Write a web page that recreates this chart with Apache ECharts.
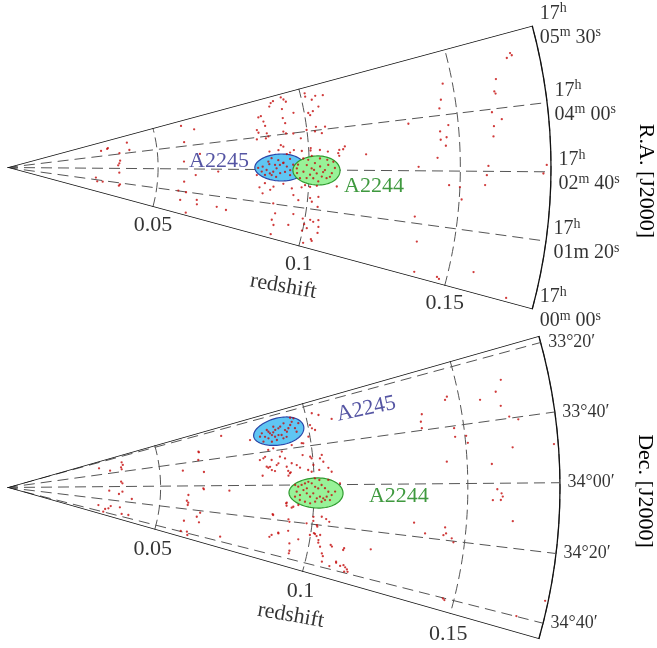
<!DOCTYPE html>
<html><head><meta charset="utf-8">
<script src="https://cdn.jsdelivr.net/npm/echarts@6/dist/echarts.min.js"></script>
<style>html,body{margin:0;padding:0;background:#fff}#c{width:657px;height:648px}</style>
</head><body><div id="c"></div>
<script>
// ---- data: [redshift, R.A. seconds after 17h00m00s] ----
const raPoints = [
[.0340,284],[.0337,280],[.0316,274],[.0405,293],[.0409,254],[.0375,244],[.0375,203],[.0372,188],[.0368,177],[.0372,136],
[.0296,94],[.0302,70],[.0320,73],[.0378,72],[.0375,64],[.0592,312],[.0632,291],[.0592,254],[.0586,186],[.0625,140],
[.0588,115],[.0572,81],[.0598,79],[.0583,49],[.0637,59],[.0640,45],[.0610,10],[.0706,49],[.0738,45],[.0699,153],
[.0640,209],[.0935,322],[.0942,316],[.0948,310],[.0898,315],[.0907,318],[.0891,308],[.1015,318],[.1014,311],[.1033,302],
[.1047,308],[.1050,286],[.1072,306],[.0965,283],[.1013,277],[.1018,272],[.1029,279],[.0930,296],[.0927,276],[.0857,290],
[.0848,288],[.0862,276],[.0865,265],[.0836,258],[.0840,251],[.0867,247],[.0932,264],[.0922,246],[.0930,241],[.0954,239],
[.0977,227],[.0999,243],[.1031,247],[.1061,245],[.1026,238],[.1048,233],[.0871,239],[.0862,235],[.0832,235],[.0909,216],
[.0917,212],[.0951,203],[.0977,200],[.1007,205],[.1037,200],[.1063,196],[.1101,198],[.0938,198],[.0927,195],[.0870,203],
[.0900,205],
[.0846,167],[.0859,159],[.0870,151],[.0881,155],[.0892,163],[.0903,171],[.0914,175],[.0926,167],[.0937,159],[.0947,171],
[.0959,163],[.0876,147],[.0904,152],[.0854,147],[.0887,171],[.0868,173],[.0920,155],[.0937,148],[.0843,155],[.0876,187],
[.0898,182],[.0937,184],[.0915,176],[.0865,179],[.0831,164],[.0891,143],[.0960,153],
[.0992,170],[.1008,163],[.1019,174],[.1036,167],[.1052,160],[.1063,170],[.1075,154],[.1025,153],[.1042,147],[.1003,150],
[.0981,156],[.1058,144],[.1085,164],[.1014,143],[.0992,143],[.1031,137],[.0970,142],[.0981,184],[.0997,181],[.1009,189],
[.1036,183],[.1060,180],[.1080,176],[.1006,200],[.0963,171],[.1046,156],[.1069,147],[.1016,160],
[.0827,146],[.0838,116],[.0855,127],[.0874,112],[.0884,120],[.0850,102],[.0916,128],[.0945,119],[.0952,105],[.0977,123],
[.0988,128],[.1005,125],[.1027,128],[.0970,95],[.1008,102],[.1015,95],[.1035,106],[.1036,86],[.0889,81],[.0900,59],
[.0893,43],[.0902,32],[.0950,39],[.0960,64],[.0993,58],[.1018,58],[.1029,55],[.1045,60],[.1001,47],[.1012,40],
[.0998,33],[.1049,47],[.1050,35],[.0900,10],[.1033,20],[.1037,17],[.1011,9],
[.1707,305],[.1711,302],[.1693,300],[.1644,277],[.1632,262],[.1635,259],[.1468,284],[.1453,262],[.1444,250],[.1615,236],
[.1645,226],[.1617,218],[.1613,205],[.1467,225],[.1438,217],[.1458,208],[.1438,205],[.1454,196],[.1425,179],[.1336,233],
[.1189,188],[.1120,204],[.1114,199],[.1097,192],[.1100,187],[.1362,166],[.1593,167],[.1588,155],[.1583,142],[.1464,140],
[.1500,138],[.1508,121],[.1786,168],[.1775,158],[.1359,90],[.1378,53],[.1391,8],[.1468,9],[.1476,7],[.1582,27],
[.1707,5],[.1093,129]
];
// ---- data: [redshift, Dec arcmin after 33°20'] ----
const decPoints = [
[.0717,4.5],[.0634,12.5],[.0635,13.1],[.0629,19.1],[.0575,26.5],[.0643,29.1],[.0639,42.0],[.0641,42.8],[.0724,43.6],[.0591,47.8],
[.0587,52.8],[.0591,56.4],[.0634,61.6],[.0625,65.2],[.0635,69.3],[.0586,70.3],[.0583,79.6],[.0603,78.9],[.0607,81.5],[.0712,76.7],
[.0382,7.6],[.0384,11.4],[.0377,14.0],[.0378,16.8],[.0306,9.3],[.0340,16.1],[.0372,33.4],[.0376,35.7],[.0333,46.2],[.0365,50.4],
[.0376,47.0],[.0408,55.7],[.0303,70.9],[.0343,68.9],[.0327,75.0],[.0323,79.7],[.0337,72.9],[.0373,68.4],[.0383,76.7],[.0405,76.1],
[.0866,7.4],[.0870,8.6],[.0874,9.7],[.0879,10.9],[.0885,9.5],[.0888,12.2],[.0856,11.1],[.0904,7.9],[.0911,7.2],[.0924,5.8],
[.0924,9.6],[.0929,10.7],[.0936,9.0],[.0944,7.5],[.0951,6.0],[.0959,4.4],[.0949,3.7],[.0957,9.7],[.0960,11.7],[.0910,11.9],
[.0892,14.2],[.0875,14.7],[.0866,12.4],[.0848,13.8],[.0848,8.7],[.0840,10.5],[.0889,6.4],[.0914,13.9],[.0925,13.4],[.0971,7.5],
[.0893,8.4],[.0900,11.6],
[.1021,4.1],[.1041,5.7],[.1080,8.9],[.1007,9.7],[.1011,11.5],[.1020,12.6],[.0995,15.3],[.0975,18.3],[.0937,18.3],[.0876,18.6],
[.0859,19.1],[.0894,23.8],[.0910,25.1],[.0846,22.9],[.0866,25.2],[.0992,25.6],[.1030,25.3],[.1023,26.9],[.1033,28.7],[.0930,28.1],
[.0946,29.3],[.0881,28.4],[.0859,29.1],[.1000,29.9],[.0806,11.3],[.0828,24.5],
[.0853,29.6],[.0864,31.1],[.0874,31.8],[.0917,32.2],[.0925,33.0],[.0956,30.8],[.0982,32.3],[.0993,33.3],[.1018,32.6],[.1048,31.8],
[.1058,33.8],[.0833,34.2],[.0917,34.8],[.1003,36.7],[.1017,37.6],[.1046,37.7],[.0910,50.2],[.0912,51.5],[.0929,52.4],[.0869,57.0],
[.0922,58.9],[.0926,60.2],[.0982,59.9],[.1003,58.3],[.1016,60.2],[.1018,60.9],[.1029,55.8],[.1044,56.7],[.1055,57.9],[.0896,67.5],
[.1010,64.4],
[.0938,40.0],[.0948,40.9],[.0959,40.0],[.0970,39.2],[.0981,38.4],[.0992,39.2],[.1003,41.0],[.1013,41.8],[.1024,40.1],[.1035,41.7],
[.1046,43.4],[.1057,45.0],[.1068,43.3],[.0943,43.6],[.0954,45.4],[.0965,42.7],[.0976,44.4],[.0987,46.1],[.0997,44.3],[.1009,46.8],
[.1019,45.9],[.1030,46.7],[.1041,45.8],[.1052,47.4],[.0954,48.0],[.0971,48.8],[.0988,49.5],[.1004,48.5],[.1025,48.4],[.1036,47.5],
[.0976,41.8],[.0938,46.3],[.0950,50.7],
[.0869,70.3],[.0875,69.0],[.0895,67.1],[.0937,71.8],[.0942,75.7],[.0963,68.8],[.0998,65.6],[.1014,64.7],[.1020,65.6],[.1031,64.8],
[.1029,68.7],[.1037,70.5],[.1070,68.7],[.1075,69.4],[.1047,73.5],[.1052,74.7],[.1053,77.4],[.1080,78.6],[.1099,76.4],[.1114,77.4],
[.1115,69.1],[.1124,76.7],[.1131,77.5],[.1138,78.2],[.1131,79.5],[.1142,79.2],
[.0592,54.4],[.0871,57.4],[.0926,65.2],[.0840,23.7],[.0848,28.9],[.0902,21.1],[.0887,27.5],[.0913,29.8],[.0922,33.5],[.0970,18.1],
[.0968,24.3],[.0996,26.5],[.0934,51.8],[.0912,49.8],[.1002,56.2],[.1028,67.4],[.0942,77.1],
[.1645,7.9],[.1621,11.2],[.1629,15.8],[.1566,12.8],[.1651,19.5],[.1679,20.7],[.1454,10.6],[.1462,9.6],[.1371,14.1],[.1364,16.8],
[.1364,19.2],[.1468,20.8],[.1468,23.8],[.1504,23.9],[.1507,26.3],[.1651,29.0],[.1786,29.0],[.1434,32.2],[.1580,33.8],[.1596,41.9],
[.1610,43.2],[.1614,44.2],[.1608,45.3],[.1582,45.4],[.1650,51.7],[.1330,54.8],[.1369,58.4],[.1432,55.5],[.1437,57.6],[.1429,58.3],
[.1457,59.1],[.1464,60.4],[.1201,67.6],[.1113,70.0],[.1098,75.9],[.1464,80.2],[.1470,80.6],[.1790,73.7],[.1710,79.9],[.1084,39.4]
];
// ---- axes ----
const zMax = 0.18;
const zTicks = [0.05, 0.1, 0.15];
const zTickText = ['0.05', '0.1', '0.15'];
const raRange = [0, 330];            // wedge edges, seconds of R.A.
const decRange = [-1.9, 84.6];       // wedge edges, arcmin of Dec. after 33°20'
const raSpokes = [80, 160, 240];
const decSpokes = [0, 20, 40, 60, 80];
const raTickValues = [0, 80, 160, 240, 330];
const raTickText = [
  '{n|17}{s|h}\n{n|00}{s|m}{n| 00}{s|s}',
  '{n|17}{s|h}\n{n|01m 20}{s|s}',
  '{n|17}{s|h}\n{n|02}{s|m}{n| 40}{s|s}',
  '{n|17}{s|h}\n{n|04}{s|m}{n| 00}{s|s}',
  '{n|17}{s|h}\n{n|05}{s|m}{n| 30}{s|s}'
];
const decTickValues = [0, 20, 40, 60, 80];
const decTickText = ['33°20′', '33°40′', '34°00′', '34°20′', '34°40′'];
// ---- clusters: [redshift, centre angle value, half-width in z, half-height in angle units] ----
const clusterNames = ['A2245', 'A2244'];
const raClusters = [[0.0903, 165, 0.0083, 30.9], [0.1024, 159, 0.0078, 29.3]];
const decClusters = [[0.0903, 9.7, 0.0083, 7.6], [0.1006, 44.1, 0.0088, 7.57]];

const FONT = "'Liberation Serif','Times New Roman',serif";
const clusterFill = ['#5fc6f3', '#98f298'];
const clusterStroke = ['#2a46a8', '#2f9a2f'];
const clusterText = ['#2b2b8c', '#0f800f'];
const CLEAR = 'rgba(0,0,0,0)';
const TXT = { textBorderWidth: 0, textShadowBlur: 0 };

const panels = [
  { center: [7, 167.5], radius: 544, range: raRange, start: -15.1, end: 15.1, clockwise: false,
    points: raPoints, spokes: raSpokes, tickVals: raTickValues, tickText: raTickText, clusters: raClusters,
    zEdge: raRange[0], zOff: [0, 18], rsAt: [0.094, raRange[0]], rsOff: [2, 45],
    nameAt: [[0.0702, 184], [0.1216, 133.5]], nameRot: [0, 0], title: 'R.A. [J2000]', titleXY: [646, 181] },
  { center: [7, 487.5], radius: 553, range: decRange, start: 15.9, end: -15.9, clockwise: true,
    points: decPoints, spokes: decSpokes, tickVals: decTickValues, tickText: decTickText, clusters: decClusters,
    zEdge: decRange[1], zOff: [-2, 20], rsAt: [0.094, decRange[1]], rsOff: [6, 49],
    nameAt: [[0.1197, 7.8], [0.1276, 44.7]], nameRot: [12, 0], title: 'Dec. [J2000]', titleXY: [645, 491] }
];

function at(off) { return { position: [0.5 + off[0], 0.5 + off[1]], align: 'center', verticalAlign: 'middle' }; }

const series = [];
panels.forEach((p, i) => {
  const base = { coordinateSystem: 'polar', polarIndex: i, silent: true, animation: false };
  const labelBase = Object.assign({}, base, { type: 'scatter', z: 5, symbolSize: 1, itemStyle: { color: CLEAR }, labelLayout: { hideOverlap: false } });
  // dashed spokes
  p.spokes.forEach(v => series.push(Object.assign({}, base, {
    type: 'line', symbol: 'none', z: 1, data: [[0, v], [zMax, v]],
    lineStyle: { color: '#555', width: 1, type: [11, 6] }
  })));
  // solid wedge edges
  p.range.forEach(v => series.push(Object.assign({}, base, {
    type: 'line', symbol: 'none', z: 4, data: [[0, v], [zMax, v]],
    lineStyle: { color: '#111', width: 1.3 }
  })));
  // cluster ellipses
  series.push(Object.assign({}, base, {
    type: 'custom', z: 2, data: p.clusters,
    renderItem: (params, api) => {
      const z0 = api.value(0), v0 = api.value(1), a = api.value(2), b = api.value(3);
      const pts = [];
      for (let k = 0; k < 90; k++) {
        const t = k / 90 * Math.PI * 2;
        pts.push(api.coord([z0 + a * Math.cos(t), v0 + b * Math.sin(t)]));
      }
      return { type: 'polygon', shape: { points: pts },
        style: { fill: clusterFill[params.dataIndex], stroke: clusterStroke[params.dataIndex], lineWidth: 1.2 } };
    }
  }));
  // galaxies
  series.push(Object.assign({}, base, {
    type: 'scatter', z: 3, symbol: 'circle', symbolSize: 2.3, data: p.points,
    itemStyle: { color: '#c40a0a' }
  }));
  // outer tick labels
  series.push(Object.assign({}, labelBase, {
    data: p.tickVals.map((v, k) => ({ value: [zMax, v], label: { formatter: p.tickText[k] } })),
    label: Object.assign({ show: true, position: 'right', distance: 7, color: '#000', fontFamily: FONT, fontSize: 18,
      rich: { n: Object.assign({ fontFamily: FONT, fontSize: 20, lineHeight: 24, verticalAlign: 'middle', color: '#000' }, TXT),
              s: Object.assign({ fontFamily: FONT, fontSize: 14, lineHeight: 24, verticalAlign: 'top', color: '#000' }, TXT) } }, TXT)
  }));
  // redshift tick labels
  series.push(Object.assign({}, labelBase, {
    data: zTicks.map((z, k) => ({ value: [z, p.zEdge], label: { formatter: zTickText[k] } })),
    label: Object.assign({ show: true, color: '#000', fontFamily: FONT, fontSize: 22 }, at(p.zOff), TXT)
  }));
  // axis name
  series.push(Object.assign({}, labelBase, {
    data: [{ value: p.rsAt, label: { formatter: 'redshift' } }],
    label: Object.assign({ show: true, rotate: -10, color: '#000', fontFamily: FONT, fontSize: 22 }, at(p.rsOff), TXT)
  }));
  // cluster names
  series.push(Object.assign({}, labelBase, {
    data: clusterNames.map((n, k) => ({ value: p.nameAt[k],
      label: { formatter: n, color: clusterText[k], rotate: p.nameRot[k] } })),
    label: Object.assign({ show: true, fontFamily: FONT, fontSize: 22 }, at([0, 0]), TXT)
  }));
});

const chart = echarts.init(document.getElementById('c'), null, { renderer: 'canvas' });
chart.setOption({
  animation: false,
  backgroundColor: '#fff',
  polar: panels.map(p => ({ center: p.center, radius: p.radius })),
  angleAxis: panels.map((p, i) => ({
    polarIndex: i, type: 'value', min: p.range[0], max: p.range[1],
    startAngle: p.start, endAngle: p.end, clockwise: p.clockwise,
    axisLine: { show: true, lineStyle: { color: '#111', width: 1.3 } },
    axisTick: { show: false }, axisLabel: { show: false }, splitLine: { show: false }
  })),
  radiusAxis: panels.map((p, i) => ({
    polarIndex: i, type: 'value', min: 0, max: zMax, interval: 0.05,
    axisLine: { show: false }, axisTick: { show: false }, axisLabel: { show: false },
    splitLine: { show: true, lineStyle: { color: '#555', width: 1, type: [10, 5] } }
  })),
  graphic: panels.map(p => ({
    type: 'text', x: p.titleXY[0], y: p.titleXY[1], rotation: -Math.PI / 2,
    style: { text: p.title, fontFamily: FONT, fontSize: 22, fill: '#000', align: 'center', verticalAlign: 'middle' }
  })),
  series: series
});
</script>
</body></html>
